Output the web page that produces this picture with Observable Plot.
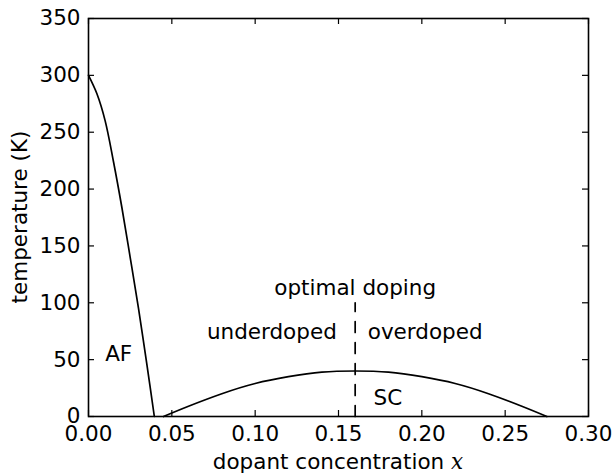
<!DOCTYPE html>
<html>
<head>
<meta charset="utf-8">
<script src="https://cdn.jsdelivr.net/npm/d3@7"></script>
<script src="https://cdn.jsdelivr.net/npm/@observablehq/plot@0.6"></script>
<style>
  html, body { margin: 0; padding: 0; background: #fff; }
  #chart svg { display: block; }
</style>
</head>
<body>
<div id="chart"></div>
<script>
// Antiferromagnetic phase boundary: Néel temperature vs. doping
const afX = [0, 0.005, 0.01, 0.015, 0.02, 0.025, 0.03, 0.035, 0.0395];
const afT = [300, 284, 260, 224, 184, 140, 95, 46, 0];

// Superconducting dome: Tc vs. doping
const scX = [0.045, 0.06, 0.08, 0.10, 0.12, 0.14, 0.16, 0.18, 0.20, 0.22, 0.24, 0.26, 0.275];
const scT = [0, 9, 20, 29, 35, 39, 40, 39, 35, 29, 20, 9, 0];

// Optimal doping marker
const optX = [0.16, 0.16];
const optT = [0, 100];

// Region labels
const labelText = ["AF", "underdoped", "overdoped", "optimal doping", "SC"];
const labelX = [0.01, 0.11, 0.202, 0.16, 0.171];
const labelT = [55, 74, 74, 113, 16];
const labelAnchor = ["start", "middle", "middle", "middle", "start"];

// Axis ticks
const xTicks = [0, 0.05, 0.10, 0.15, 0.20, 0.25, 0.30];
const yTicks = [0, 50, 100, 150, 200, 250, 300, 350];

const W = 613, H = 473;
const mL = 88, mR = 25, mT = 18, mB = 57;
const innerW = W - mL - mR, innerH = H - mT - mB;
const font = "DejaVu Sans, sans-serif";
const fs = 21.5;

const af = afX.map((x, i) => ({x, t: afT[i]}));
const sc = scX.map((x, i) => ({x, t: scT[i]}));
const opt = optX.map((x, i) => ({x, t: optT[i]}));
const labels = labelText.map((s, i) => ({s, x: labelX[i], t: labelT[i], a: labelAnchor[i]}));

const plot = Plot.plot({
  width: W,
  height: H,
  marginLeft: mL, marginRight: mR, marginTop: mT, marginBottom: mB,
  style: {fontFamily: font, fontSize: fs + "px", color: "#000", background: "#fff"},
  x: {domain: [0, 0.3]},
  y: {domain: [0, 350]},
  marks: [
    Plot.line(af, {x: "x", y: "t", stroke: "#000", strokeWidth: 1.7, curve: "catmull-rom"}),
    Plot.line(sc, {x: "x", y: "t", stroke: "#000", strokeWidth: 1.7, curve: "natural"}),
    Plot.line(opt, {x: "x", y: "t", stroke: "#000", strokeWidth: 1.7, strokeDasharray: "11,10"}),
    Plot.text(labels.filter(d => d.a === "start"), {x: "x", y: "t", text: "s", textAnchor: "start", fontSize: fs, fill: "#000"}),
    Plot.text(labels.filter(d => d.a === "middle"), {x: "x", y: "t", text: "s", textAnchor: "middle", fontSize: fs, fill: "#000"}),
    // inward ticks on all four sides
    Plot.tickX(xTicks, {x: d => d, insetTop: innerH - 6, stroke: "#000", strokeWidth: 1.2}),
    Plot.tickX(xTicks, {x: d => d, insetBottom: innerH - 6, stroke: "#000", strokeWidth: 1.2}),
    Plot.tickY(yTicks, {y: d => d, insetRight: innerW - 6, stroke: "#000", strokeWidth: 1.2}),
    Plot.tickY(yTicks, {y: d => d, insetLeft: innerW - 6, stroke: "#000", strokeWidth: 1.2}),
    Plot.axisX(xTicks, {tickSize: 0, tickPadding: 9, tickFormat: d3.format(".2f"), fontSize: fs, label: null}),
    Plot.axisY(yTicks, {tickSize: 0, tickPadding: 8, tickFormat: d3.format("d"), fontSize: fs, label: null}),
    Plot.frame({stroke: "#000", strokeWidth: 1.6})
  ]
});

const svg = d3.select(plot);
// x-axis title with italic math variable
const xl = svg.append("text")
  .attr("x", mL + innerW / 2)
  .attr("y", H - 4)
  .attr("text-anchor", "middle")
  .attr("font-family", font)
  .attr("font-size", fs)
  .attr("fill", "#000");
xl.append("tspan").text("dopant concentration ");
xl.append("tspan").attr("font-family", "DejaVu Serif, serif").attr("font-style", "italic").text("x");

// y-axis title
svg.append("text")
  .attr("transform", `translate(${27},${mT + innerH / 2}) rotate(-90)`)
  .attr("text-anchor", "middle")
  .attr("font-family", font)
  .attr("font-size", fs)
  .attr("fill", "#000")
  .text("temperature (K)");

document.getElementById("chart").appendChild(plot);
</script>
</body>
</html>
